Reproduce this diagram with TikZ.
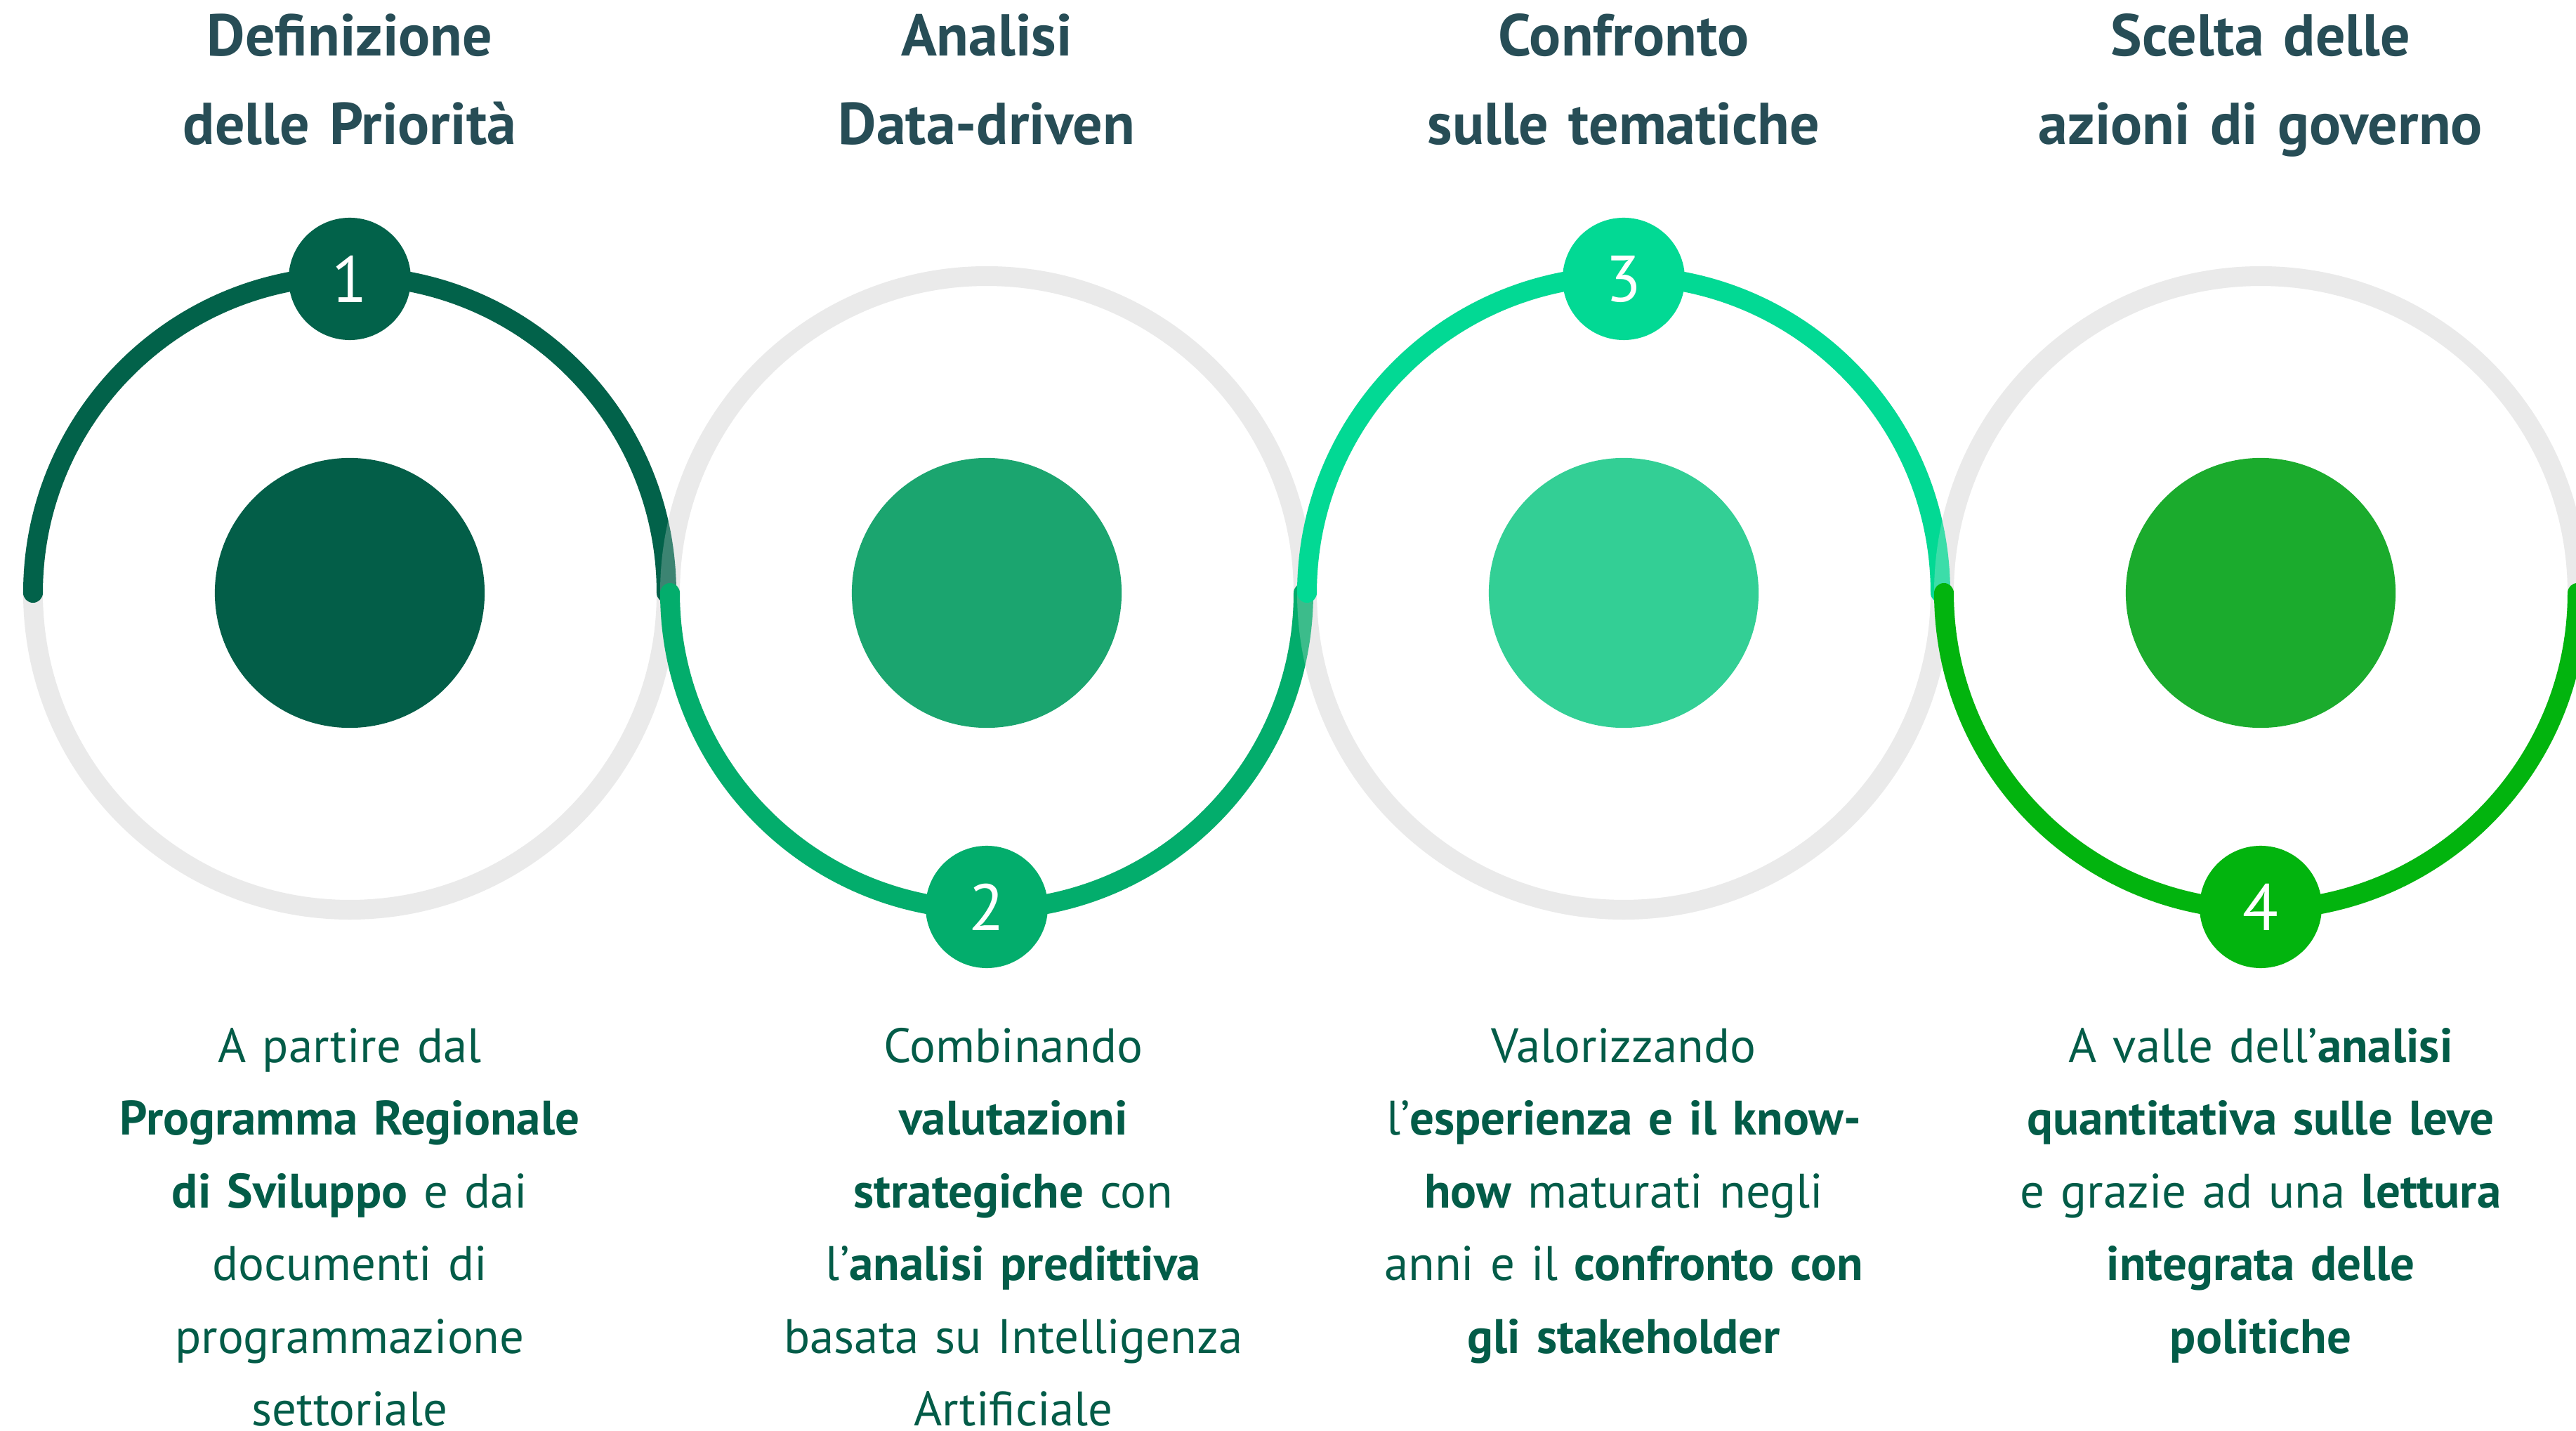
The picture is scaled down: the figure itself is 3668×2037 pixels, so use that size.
\documentclass[tikz,border=0pt]{standalone}
\usepackage{fontspec}
\setmainfont{PT Sans}

\definecolor{titleSlate}{HTML}{274D56}
\definecolor{textPine}{HTML}{035C48}
\definecolor{ringGray}{HTML}{EAEAEA}
\definecolor{stepOne}{HTML}{02624A}
\definecolor{stepTwo}{HTML}{03AD6C}
\definecolor{stepThree}{HTML}{02D994}
\definecolor{stepFour}{HTML}{02B40E}
\definecolor{discOne}{HTML}{035E48}
\definecolor{discTwo}{HTML}{1BA56F}
\definecolor{discThree}{HTML}{33CF95}
\definecolor{discFour}{HTML}{1BAB2D}

\begin{document}
\begin{tikzpicture}[x=0.01cm, y=0.01cm,
    ring/.style={line width=7.97pt, draw=ringGray},
    track/.style={line width=7.97pt, line cap=round},
    disc/.style={circle, minimum size=3.84cm, inner sep=0pt},
    badge/.style={circle, minimum size=1.74cm, inner sep=0pt, text=white,
        font=\fontsize{26.5pt}{30pt}\selectfont},
    heading/.style={anchor=base, align=center, text width=9cm, inner sep=0pt,
        text=titleSlate, font=\bfseries\fontsize{23.9pt}{35.6pt}\selectfont},
    blurb/.style={anchor=base, align=center, text width=9cm, inner sep=0pt,
        text=textPine, font=\fontsize{19.6pt}{29.45pt}\selectfont}]
    \useasboundingbox (0,0) rectangle (3668,-2037);

    \node[disc, fill=discOne] (disc1) at (498,-844) {};
    \node[disc, fill=discTwo] (disc2) at (1405,-844) {};
    \node[disc, fill=discThree] (disc3) at (2312,-844) {};
    \node[disc, fill=discFour] (disc4) at (3219,-844) {};

    \draw[ring] (disc1.center) circle (451);
    \draw[ring] (disc2.center) circle (451);
    \draw[ring] (disc3.center) circle (451);
    \draw[ring] (disc4.center) circle (451);

    \draw[track, stepOne] (disc1.center) ++(-451,0) arc[start angle=180, end angle=0, radius=451];
    \draw[ring, draw opacity=0.25] (disc2.center) circle (451);
    \draw[track, stepTwo] (disc2.center) ++(-451,0) arc[start angle=180, end angle=360, radius=451];
    \draw[ring, draw opacity=0.25] (disc3.center) circle (451);
    \draw[track, stepThree] (disc3.center) ++(-451,0) arc[start angle=180, end angle=0, radius=451];
    \draw[ring, draw opacity=0.25] (disc4.center) circle (451);
    \draw[track, stepFour] (disc4.center) ++(-451,0) arc[start angle=180, end angle=360, radius=451];

    \node[badge, fill=stepOne] (badge1) at (498,-397) {1};
    \node[badge, fill=stepTwo] (badge2) at (1405,-1291) {2};
    \node[badge, fill=stepThree] (badge3) at (2312,-397) {3};
    \node[badge, fill=stepFour] (badge4) at (3219,-1291) {4};

    \node[heading] (title1) at (498,-80) {Definizione\\delle Priorità};
    \node[heading] (title2) at (1405,-80) {Analisi\\Data-driven};
    \node[heading] (title3) at (2312,-80) {Confronto\\sulle tematiche};
    \node[heading] (title4) at (3219,-80) {Scelta delle\\azioni di governo};

    \node[blurb] (text1) at (498,-1512) {A partire dal\\\textbf{Programma Regionale}\\\textbf{di Sviluppo} e dai\\documenti di\\programmazione\\settoriale};
    \node[blurb] (text2) at (1443,-1512) {Combinando\\\textbf{valutazioni}\\\textbf{strategiche} con\\l’\textbf{analisi predittiva}\\basata su Intelligenza\\Artificiale};
    \node[blurb] (text3) at (2312,-1512) {Valorizzando\\l’\textbf{esperienza e il know-}\\\textbf{how} maturati negli\\anni e il \textbf{confronto con}\\\textbf{gli stakeholder}};
    \node[blurb] (text4) at (3219,-1512) {A valle dell’\textbf{analisi}\\\textbf{quantitativa sulle leve}\\e grazie ad una \textbf{lettura}\\\textbf{integrata delle}\\\textbf{politiche}};
\end{tikzpicture}
\end{document}
